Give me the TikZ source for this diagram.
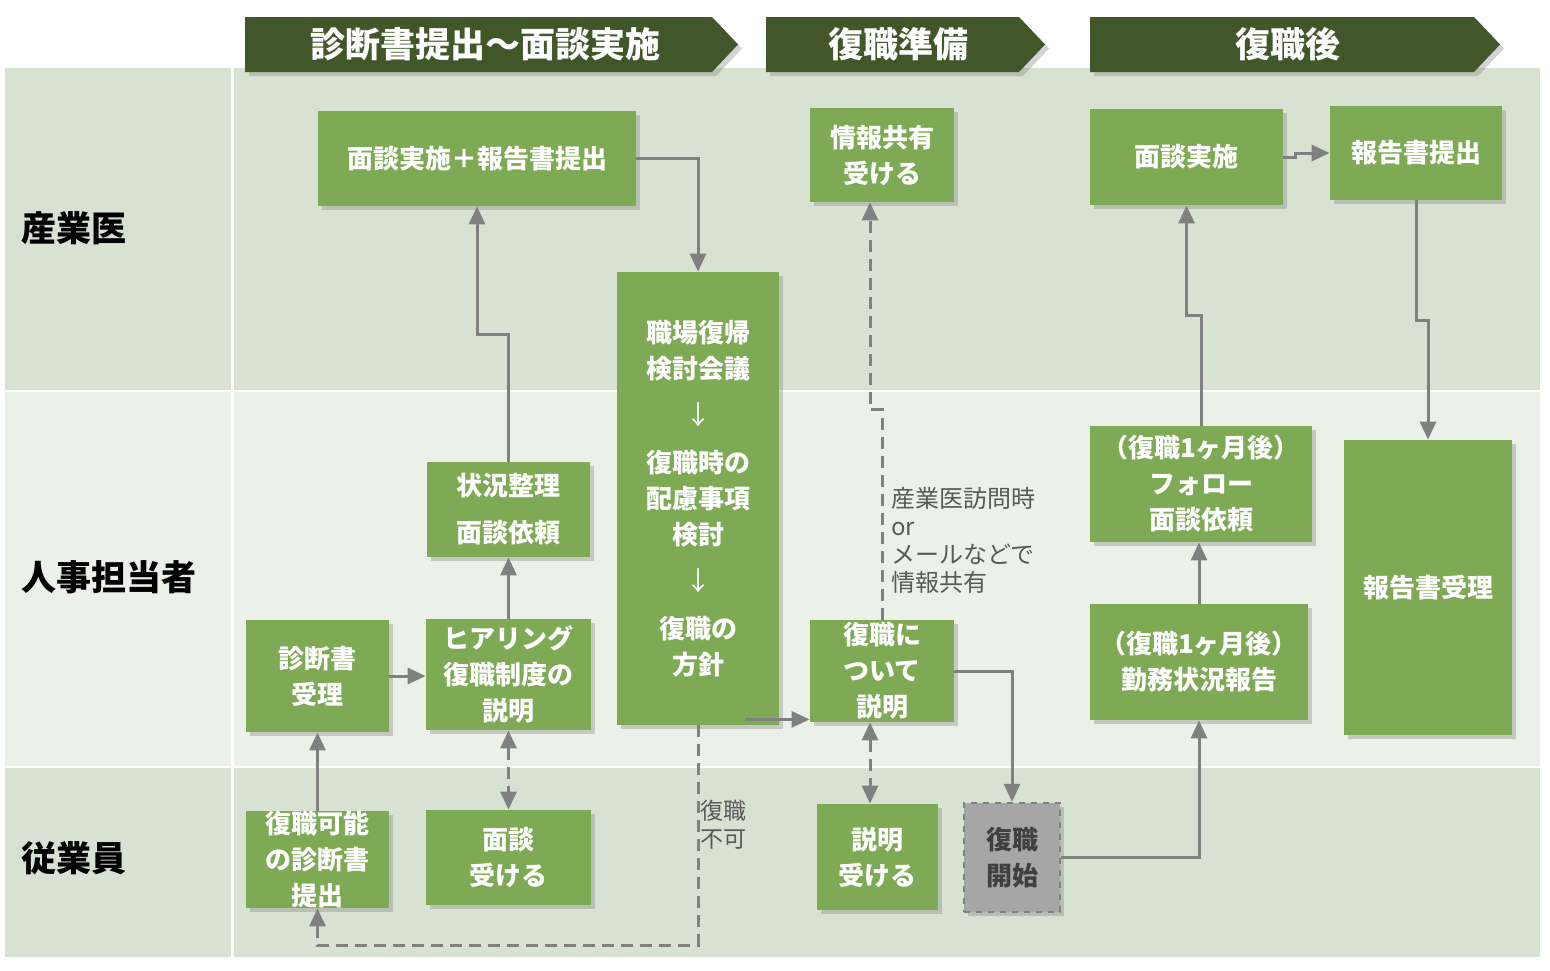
\documentclass[tikz,border=0pt]{standalone}
\usepackage{fontspec}
\setmainfont{Noto Sans CJK JP}
\usetikzlibrary{arrows.meta,shadows}

\definecolor{lanedark}{RGB}{215,226,210}
\definecolor{lanelight}{RGB}{235,240,232}
\definecolor{boxgreen}{RGB}{126,170,85}
\definecolor{headgreen}{RGB}{65,87,42}
\definecolor{linegray}{RGB}{128,128,128}
\definecolor{notegray}{RGB}{89,89,89}
\definecolor{startgray}{RGB}{166,166,166}

\tikzset{
	>={Triangle[length=9pt,width=8pt]},
	box/.style={fill=boxgreen, text=white, align=center, inner sep=0pt,
		font=\bfseries\fontsize{13}{18}\selectfont,
		drop shadow={shadow xshift=2pt, shadow yshift=-2pt, opacity=0.35}},
	conn/.style={draw=linegray, line width=1.5pt, ->},
	dconn/.style={conn, dash pattern=on 6pt off 3.5pt},
	head/.style={fill=headgreen, drop shadow={shadow xshift=2pt, shadow yshift=-2pt, opacity=0.35}},
	headtext/.style={text=white, font=\bfseries\fontsize{17.5}{20}\selectfont},
	lane/.style={anchor=west, font=\bfseries\fontsize{17.5}{20}\selectfont},
	note/.style={anchor=north west, align=left, text=notegray, font=\fontsize{12}{14}\selectfont},
}

\begin{document}
\begin{tikzpicture}[x=0.5pt,y=-0.5pt]
	\useasboundingbox (0,0) rectangle (1550,970);

	% Lanes
		\fill[lanedark] (5,68) rectangle (1540,390);
		\fill[lanelight] (5,392) rectangle (1540,766);
		\fill[lanedark] (5,768) rectangle (1540,957);
		\draw[white, line width=1.5pt] (232,68) -- (232,957);

		\node[lane] (sangyoi) at (14,228) {産業医};
		\node[lane] (jinji) at (14,577) {人事担当者};
		\node[lane] (jugyoin) at (14,858) {従業員};

	% Headers
		\fill[head] (245,17) -- (712,17) -- (738,44.5) -- (712,72) -- (245,72) -- cycle;
		\node[headtext] (hd1) at (485,44) {診断書提出～面談実施};
		\fill[head] (766,17) -- (1019,17) -- (1045,44.5) -- (1019,72) -- (766,72) -- cycle;
		\node[headtext] (hd2) at (898,44) {復職準備};
		\fill[head] (1090,17) -- (1474,17) -- (1500,44.5) -- (1474,72) -- (1090,72) -- cycle;
		\node[headtext] (hd3) at (1288,44) {復職後};

	% 診断書提出～面談実施
		\node[box, minimum width=159pt, minimum height=47.5pt] (hokoku1) at (477,158.5) {面談実施＋報告書提出};
		\node[box, minimum width=81.5pt, minimum height=47.5pt] (seiri) at (508.5,509.5) {状況整理\\[5.5pt]面談依頼};
		\node[box, minimum width=71.5pt, minimum height=56pt] (juri) at (317.5,676) {診断書\\受理};
		\node[box, minimum width=82.5pt, minimum height=55.5pt] (hearing) at (508.5,674.5) {ヒアリング\\復職制度の\\説明};
		\node[box, minimum width=71.5pt, minimum height=47.5pt] (teishutsu) at (317.5,859.5) {復職可能\\の診断書\\提出};
		\node[box, minimum width=82.5pt, minimum height=47.5pt] (mendan) at (508.5,857.5) {面談\\受ける};
		\node[box, minimum width=81pt, minimum height=226.5pt] (kaigi) at (698,498.5)
			{職場復帰\\検討会議\\[5pt]{\mdseries ↓}\\[6pt]復職時の\\配慮事項\\検討\\[5pt]{\mdseries ↓}\\[6pt]復職の\\方針};

		\draw[conn] (hokoku1.east) -| (kaigi.north);
		\draw[conn] (seiri.north) -- ++(0,-127) -| (hokoku1.south);
		\draw[conn] (juri.east) -- (juri.east -| hearing.west);
		\draw[conn] (hearing.north) -- (seiri.south);
		\draw[dconn, <->] (hearing.south) -- (mendan.north);
		\draw[conn] (teishutsu.north) -- (juri.south);
		\draw[dconn] (kaigi.south) -- ++(0,220) -| (teishutsu.south);
		\node[note, font=\fontsize{11.5}{14}\selectfont] (fuka) at (693,793) {復職\\不可};

	% 復職準備
		\node[box, minimum width=72pt, minimum height=47pt] (kyoyu) at (882,155) {情報共有\\受ける};
		\node[box, minimum width=72pt, minimum height=51pt] (setsumei) at (882,671) {復職に\\ついて\\説明};
		\node[box, minimum width=60.5pt, minimum height=53pt] (ukeru) at (877.5,857) {説明\\受ける};
		\node[box, fill=startgray, draw=linegray, dashed, line width=1.2pt, text=black!75,
			minimum width=48pt, minimum height=54.5pt] (kaishi) at (1012,857.5) {復職\\開始};

		\draw[conn] ([xshift=-17pt,yshift=3pt]kaigi.south east) -- ([yshift=3pt]kaigi.south east -| setsumei.west);
		\draw[dconn] (setsumei.north) -- ++(0,-210) -| ([xshift=-6pt]kyoyu.south);
		\node[note] (joho) at (884,480) {産業医訪問時\\or\\メールなどで\\情報共有};
		\draw[dconn, <->] ([xshift=-6pt]setsumei.south) -- ([xshift=-6pt]setsumei.south |- ukeru.north);
		\draw[conn] (setsumei.east) -| (kaishi.north);

	% 復職後
		\node[box, minimum width=96.5pt, minimum height=48pt] (mendan2) at (1186.5,157) {面談実施};
		\node[box, minimum width=86pt, minimum height=47pt] (hokoku2) at (1416,153) {報告書提出};
		\node[box, minimum width=111pt, minimum height=58pt] (follow) at (1201,484) {（復職1ヶ月後）\\フォロー\\面談依頼};
		\node[box, minimum width=109pt, minimum height=58pt] (kinmu) at (1199,662) {（復職1ヶ月後）\\勤務状況報告};
		\node[box, minimum width=84pt, minimum height=147.5pt] (juri2) at (1428,587.5) {報告書受理};

		\draw[conn] (kaishi.east) -| (kinmu.south);
		\draw[conn] (kinmu.north) -- (kinmu.north |- follow.south);
		\draw[conn] (follow.north) -- ++(0,-110) -| (mendan2.south);
		\draw[conn] (mendan2.east) -- ++(12,0) |- (hokoku2.west);
		\draw[conn] (hokoku2.south) -- ++(0,120) -| (juri2.north);
\end{tikzpicture}
\end{document}
